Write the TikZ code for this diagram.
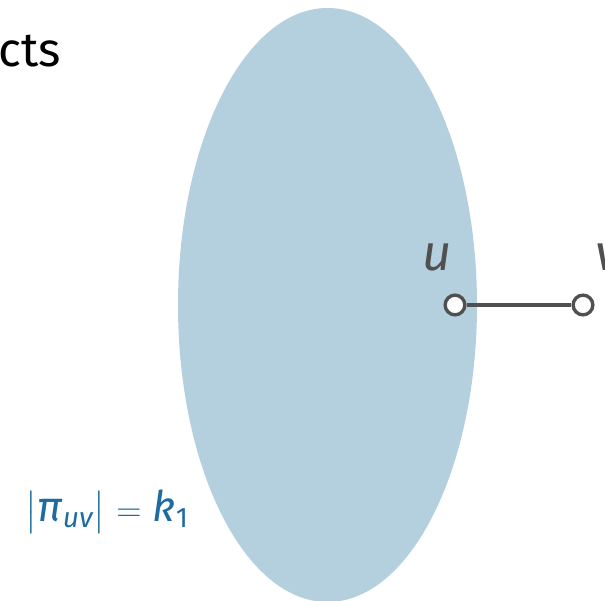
\documentclass[tikz,border=0pt]{standalone}
\usepackage{amsmath}
\usepackage{fontspec}
\setmainfont{Fira Sans}
\usepackage{xcolor}
\definecolor{region}{RGB}{180,208,222}
\definecolor{edgegray}{RGB}{80,80,80}
\definecolor{pathblue}{RGB}{28,108,160}

\begin{document}
\begin{tikzpicture}[x=0.025cm, y=0.025cm,
    vertex/.style = {circle, draw=edgegray, fill=white, line width=2.4pt, inner sep=0pt, minimum size=14pt},
    vlabel/.style = {text=edgegray, font=\fontsize{36}{40}\selectfont\itshape}
    ]
    \useasboundingbox (0,0) rectangle (605,600);
    \fill[region] (327.5,295) ellipse [x radius=149.5, y radius=297];

    \node[anchor=base east, inner sep=0pt, font=\fontsize{34}{40}\selectfont] (title) at (61,533) {cts};

    \node[vertex] (u) at (455,295) {};
    \node[vertex] (v) at (583,295) {};
    \draw[edgegray, line width=2.4pt] (u) -- (v);
    \node[vlabel] (ulab) at (437,343) {u};
    \node[vlabel] (vlab) at (608,343) {v};

    \node[anchor=base, inner sep=0pt, text=pathblue, font=\fontsize{30}{34}\selectfont] (len) at (107,79)
        {$\bigl|$\textit{π}\raisebox{-0.3ex}{\fontsize{20}{22}\selectfont\textit{uv}}$\bigr|$ $=$ \textit{k}\raisebox{-0.3ex}{\fontsize{20}{22}\selectfont 1}};
\end{tikzpicture}
\end{document}
